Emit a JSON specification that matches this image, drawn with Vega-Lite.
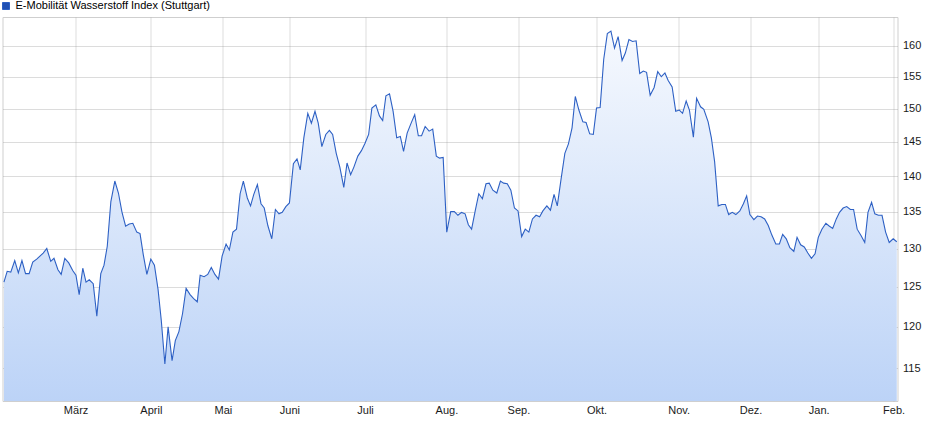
{
  "$schema": "https://vega.github.io/schema/vega-lite/v6.json",
  "autosize": {"type": "none"},
  "width": 895,
  "height": 384,
  "padding": {"left": 2.5, "top": 17, "right": 42.5, "bottom": 34},
  "background": "#ffffff",
  "config": {
    "view": {"stroke": "#cfcfcf", "strokeWidth": 1},
    "font": "Liberation Sans",
    "axis": {"labelFont": "Liberation Sans", "labelFontSize": 11, "labelColor": "#1a1a1a", "domain": false, "ticks": false, "gridColor": "#8c8c8c", "gridOpacity": 0.3, "gridWidth": 1, "zindex": 1, "title": null}
  },
  "data": {"values": [
    {"t":0.0,"v":125.6},{"t":0.9,"v":127.0},{"t":1.9,"v":126.9},{"t":3.0,"v":128.4},{"t":4.0,"v":126.8},{"t":5.0,"v":128.4},{"t":6.0,"v":126.7},{"t":7.0,"v":126.7},{"t":8.0,"v":128.2},{"t":9.1,"v":128.6},{"t":10.0,"v":129.0},{"t":10.9,"v":129.4},{"t":11.9,"v":130.0},{"t":13.0,"v":128.3},{"t":13.9,"v":128.7},{"t":15.0,"v":127.2},{"t":15.9,"v":126.6},{"t":16.9,"v":128.7},{"t":18.0,"v":128.1},{"t":19.1,"v":127.1},{"t":20.0,"v":126.5},{"t":20.9,"v":124.0},{"t":21.9,"v":127.4},{"t":22.8,"v":125.6},{"t":23.7,"v":125.9},{"t":24.8,"v":125.4},{"t":25.8,"v":121.3},{"t":26.9,"v":126.7},{"t":27.8,"v":127.8},{"t":28.7,"v":130.3},{"t":29.7,"v":136.4},{"t":30.8,"v":139.3},{"t":31.8,"v":137.6},{"t":32.8,"v":134.9},{"t":33.8,"v":133.0},{"t":34.8,"v":133.3},{"t":35.8,"v":133.4},{"t":36.9,"v":132.2},{"t":37.8,"v":132.0},{"t":38.7,"v":129.2},{"t":39.7,"v":126.6},{"t":40.8,"v":128.6},{"t":41.8,"v":127.8},{"t":42.8,"v":124.7},{"t":43.7,"v":120.8},{"t":44.7,"v":115.5},{"t":45.6,"v":120.0},{"t":46.7,"v":115.9},{"t":47.6,"v":118.3},{"t":48.6,"v":119.4},{"t":49.6,"v":121.6},{"t":50.6,"v":124.8},{"t":51.7,"v":124.0},{"t":52.7,"v":123.5},{"t":53.7,"v":123.1},{"t":54.5,"v":126.5},{"t":55.6,"v":126.3},{"t":56.6,"v":126.6},{"t":57.6,"v":127.5},{"t":58.6,"v":126.6},{"t":59.6,"v":126.0},{"t":60.6,"v":129.0},{"t":61.7,"v":130.6},{"t":62.6,"v":129.8},{"t":63.6,"v":132.2},{"t":64.6,"v":132.6},{"t":65.6,"v":137.5},{"t":66.5,"v":139.3},{"t":67.6,"v":136.9},{"t":68.5,"v":135.8},{"t":69.4,"v":137.4},{"t":70.4,"v":138.8},{"t":71.4,"v":136.1},{"t":72.3,"v":135.5},{"t":73.3,"v":133.1},{"t":74.4,"v":131.3},{"t":75.4,"v":135.3},{"t":76.4,"v":134.7},{"t":77.3,"v":134.9},{"t":78.3,"v":135.7},{"t":79.3,"v":136.2},{"t":80.4,"v":141.8},{"t":81.4,"v":142.5},{"t":82.3,"v":140.9},{"t":83.3,"v":145.6},{"t":84.4,"v":149.3},{"t":85.4,"v":147.8},{"t":86.4,"v":149.6},{"t":87.3,"v":147.8},{"t":88.3,"v":144.3},{"t":89.4,"v":146.1},{"t":90.4,"v":146.7},{"t":91.3,"v":146.1},{"t":92.3,"v":143.3},{"t":93.3,"v":141.3},{"t":94.4,"v":138.4},{"t":95.3,"v":141.9},{"t":96.3,"v":140.2},{"t":97.2,"v":141.3},{"t":98.3,"v":142.9},{"t":99.3,"v":143.7},{"t":100.3,"v":144.8},{"t":101.3,"v":146.1},{"t":102.2,"v":150.1},{"t":103.3,"v":150.6},{"t":104.3,"v":148.9},{"t":105.2,"v":148.2},{"t":106.1,"v":152.0},{"t":107.1,"v":152.3},{"t":108.1,"v":149.6},{"t":109.1,"v":145.6},{"t":110.1,"v":145.8},{"t":111.0,"v":143.6},{"t":112.0,"v":146.3},{"t":113.1,"v":147.8},{"t":114.1,"v":149.1},{"t":115.1,"v":145.9},{"t":116.0,"v":145.9},{"t":117.0,"v":147.3},{"t":118.1,"v":146.6},{"t":119.1,"v":146.9},{"t":120.1,"v":142.9},{"t":121.0,"v":142.6},{"t":122.0,"v":142.7},{"t":123.0,"v":132.2},{"t":124.1,"v":135.0},{"t":125.1,"v":135.0},{"t":126.1,"v":134.5},{"t":127.1,"v":134.9},{"t":128.1,"v":134.7},{"t":129.0,"v":133.2},{"t":129.9,"v":132.6},{"t":130.9,"v":135.1},{"t":131.9,"v":137.5},{"t":132.9,"v":136.8},{"t":133.9,"v":138.9},{"t":134.8,"v":139.0},{"t":135.8,"v":138.0},{"t":136.9,"v":137.6},{"t":137.9,"v":139.3},{"t":138.8,"v":139.0},{"t":139.8,"v":138.9},{"t":140.8,"v":138.0},{"t":141.8,"v":135.5},{"t":142.8,"v":135.1},{"t":143.8,"v":131.6},{"t":144.8,"v":132.6},{"t":145.8,"v":132.2},{"t":146.8,"v":134.0},{"t":147.8,"v":134.5},{"t":148.8,"v":134.3},{"t":149.7,"v":135.1},{"t":150.8,"v":135.8},{"t":151.8,"v":135.2},{"t":152.8,"v":137.4},{"t":153.7,"v":135.8},{"t":154.7,"v":139.4},{"t":155.8,"v":143.3},{"t":156.8,"v":144.7},{"t":157.8,"v":147.1},{"t":158.7,"v":151.9},{"t":159.7,"v":149.8},{"t":160.8,"v":148.0},{"t":161.7,"v":147.9},{"t":162.7,"v":146.2},{"t":163.7,"v":146.1},{"t":164.6,"v":150.1},{"t":165.6,"v":150.2},{"t":166.6,"v":157.8},{"t":167.6,"v":162.0},{"t":168.6,"v":162.4},{"t":169.6,"v":159.6},{"t":170.6,"v":161.5},{"t":171.7,"v":157.6},{"t":172.6,"v":158.8},{"t":173.6,"v":161.0},{"t":174.6,"v":160.7},{"t":175.6,"v":160.8},{"t":176.6,"v":155.5},{"t":177.6,"v":155.9},{"t":178.5,"v":155.7},{"t":179.5,"v":152.1},{"t":180.6,"v":153.3},{"t":181.6,"v":155.8},{"t":182.6,"v":155.0},{"t":183.6,"v":155.6},{"t":184.5,"v":154.4},{"t":185.6,"v":153.4},{"t":186.6,"v":149.6},{"t":187.6,"v":149.8},{"t":188.5,"v":149.3},{"t":189.5,"v":151.2},{"t":190.4,"v":149.8},{"t":191.5,"v":145.7},{"t":192.4,"v":151.6},{"t":193.5,"v":150.3},{"t":194.4,"v":149.9},{"t":195.6,"v":148.0},{"t":196.5,"v":145.6},{"t":197.4,"v":142.1},{"t":198.4,"v":135.8},{"t":199.4,"v":136.0},{"t":200.4,"v":136.0},{"t":201.3,"v":134.6},{"t":202.3,"v":134.9},{"t":203.3,"v":134.6},{"t":204.4,"v":135.1},{"t":205.4,"v":136.1},{"t":206.3,"v":137.2},{"t":207.2,"v":134.6},{"t":208.3,"v":133.9},{"t":209.3,"v":134.4},{"t":210.3,"v":134.3},{"t":211.3,"v":134.0},{"t":212.3,"v":133.1},{"t":213.3,"v":131.8},{"t":214.4,"v":130.6},{"t":215.4,"v":130.6},{"t":216.3,"v":131.9},{"t":217.3,"v":131.3},{"t":218.3,"v":130.1},{"t":219.4,"v":129.6},{"t":220.3,"v":131.5},{"t":221.3,"v":130.5},{"t":222.3,"v":130.2},{"t":223.3,"v":129.4},{"t":224.3,"v":128.7},{"t":225.3,"v":129.3},{"t":226.2,"v":131.5},{"t":227.2,"v":132.6},{"t":228.3,"v":133.4},{"t":229.3,"v":133.0},{"t":230.2,"v":132.7},{"t":231.2,"v":134.0},{"t":232.1,"v":134.9},{"t":233.1,"v":135.5},{"t":234.1,"v":135.7},{"t":235.1,"v":135.3},{"t":236.0,"v":135.3},{"t":237.0,"v":132.6},{"t":238.1,"v":131.7},{"t":239.1,"v":130.8},{"t":240.0,"v":134.9},{"t":241.0,"v":136.3},{"t":241.9,"v":134.7},{"t":242.9,"v":134.5},{"t":243.9,"v":134.5},{"t":244.9,"v":132.2},{"t":245.9,"v":130.8},{"t":247.0,"v":131.3},{"t":248.0,"v":130.9}
  ]},
  "encoding": {
    "x": {
      "field": "t", "type": "quantitative",
      "scale": {"domain": [-0.4, 248.2], "nice": false, "zero": false},
      "axis": {
        "orient": "bottom",
        "values": [19.9, 40.8, 60.8, 79.3, 100.3, 122.9, 142.9, 164.6, 187.4, 207.4, 226.3, 247.1],
        "labelExpr": "['März','April','Mai','Juni','Juli','Aug.','Sep.','Okt.','Nov.','Dez.','Jan.','Feb.'][indexof([19.9, 40.8, 60.8, 79.3, 100.3, 122.9, 142.9, 164.6, 187.4, 207.4, 226.3, 247.1], datum.value)]",
        "labelPadding": 3,
        "labelFlush": false,
        "labelOverlap": false,
        "grid": true
      }
    },
    "y": {
      "field": "v", "type": "quantitative",
      "scale": {"type": "log", "domain": [111.21, 164.77], "nice": false, "zero": false},
      "axis": {
        "orient": "right",
        "values": [115, 120, 125, 130, 135, 140, 145, 150, 155, 160],
        "labelPadding": 5,
        "labelAlign": "left",
        "labelBaseline": "middle",
        "grid": true
      }
    }
  },
  "layer": [
    {
      "mark": {
        "type": "area",
        "clip": true,
        "color": {
          "gradient": "linear",
          "x1": 0, "y1": 0, "x2": 0, "y2": 1,
          "stops": [
            {"offset": 0, "color": "#f6f9fe"},
            {"offset": 1, "color": "#bcd3f7"}
          ]
        }
      },
      "encoding": {"y2": {"datum": 111.21}}
    },
    {
      "mark": {"type": "line", "clip": true, "strokeWidth": 1.1, "interpolate": "linear"},
      "encoding": {
        "color": {
          "datum": "E-Mobilität Wasserstoff Index (Stuttgart)",
          "scale": {"range": ["#2d60c4"]},
          "legend": {
            "orient": "none",
            "legendX": -2,
            "legendY": -16.5,
            "title": null,
            "padding": 0,
            "symbolType": "square",
            "symbolSize": 49,
            "labelOffset": 4,
            "labelFont": "Liberation Sans",
            "labelFontSize": 11,
            "labelColor": "#000000",
            "labelLimit": 400,
            "encode": {
              "symbols": {"update": {"fill": {"value": "#1f50b4"}, "stroke": {"value": "#13357f"}, "strokeWidth": {"value": 1}, "opacity": {"value": 1}}}
            }
          }
        }
      }
    }
  ]
}
